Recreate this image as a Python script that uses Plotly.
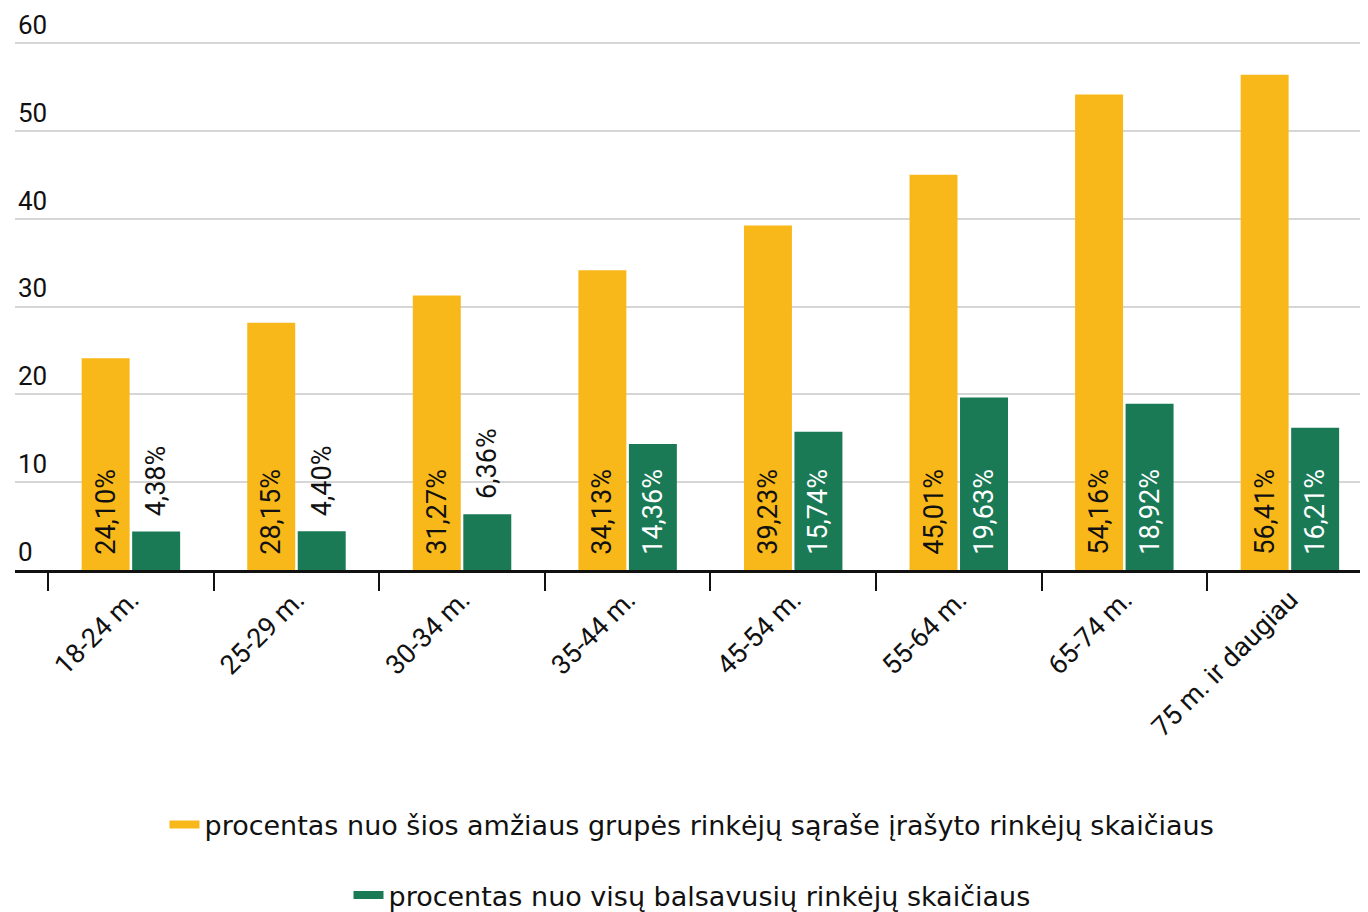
import plotly.graph_objects as go

categories = ["18-24 m.", "25-29 m.", "30-34 m.", "35-44 m.", "45-54 m.", "55-64 m.", "65-74 m.", "75 m. ir daugiau"]
share_of_group = [24.10, 28.15, 31.27, 34.13, 39.23, 45.01, 54.16, 56.41]
share_of_voters = [4.38, 4.40, 6.36, 14.36, 15.74, 19.63, 18.92, 16.21]
y_ticks = [0, 10, 20, 30, 40, 50, 60]
legend_names = [
    "procentas nuo šios amžiaus grupės rinkėjų sąraše įrašyto rinkėjų skaičiaus",
    "procentas nuo visų balsavusių rinkėjų skaičiaus",
]

YELLOW = "#F9B81A"
GREEN = "#1A7A56"
TXT_FONT = "Roboto"
LEG_FONT = "DejaVu Sans"
LABEL_TPL = "\u00a0\u2009%{y:.2f}%"

green_pos = ["outside" if v < 10 else "inside" for v in share_of_voters]

fig = go.Figure()
fig.add_trace(go.Bar(
    x=categories, y=share_of_group, marker=dict(color=YELLOW, line=dict(width=0)),
    texttemplate=LABEL_TPL, textposition="inside", insidetextanchor="start",
    textangle=-90, constraintext="none",
    insidetextfont=dict(color="#111111", size=27, family=TXT_FONT),
    showlegend=False, cliponaxis=False, hoverinfo="skip",
))
fig.add_trace(go.Bar(
    x=categories, y=share_of_voters, marker=dict(color=GREEN, line=dict(width=0)),
    texttemplate=LABEL_TPL, textposition=green_pos, insidetextanchor="start",
    textangle=-90, constraintext="none",
    insidetextfont=dict(color="white", size=27, family=TXT_FONT),
    outsidetextfont=dict(color="#111111", size=27, family=TXT_FONT),
    showlegend=False, cliponaxis=False, hoverinfo="skip",
))
fig.add_trace(go.Scatter(x=[None], y=[None], mode="lines", line=dict(color=YELLOW, width=8),
                         name=legend_names[0], legend="legend"))
fig.add_trace(go.Scatter(x=[None], y=[None], mode="lines", line=dict(color=GREEN, width=8),
                         name=legend_names[1], legend="legend2"))

fig.update_layout(
    width=1368, height=912,
    margin=dict(l=7, r=0, t=0, b=350),
    plot_bgcolor="white", paper_bgcolor="white",
    separators=",.",
    barmode="group", bargap=0.39, bargroupgap=0.05,
    font=dict(family=TXT_FONT, color="#111111"),
    legend=dict(x=0.5, xanchor="center", xref="container", y=1 - 817 / 912, yref="container",
                yanchor="middle", orientation="h",
                font=dict(family=LEG_FONT, size=27, color="#111111"), bgcolor="rgba(0,0,0,0)"),
    legend2=dict(x=0.5, xanchor="center", xref="container", y=0, yref="container",
                 yanchor="bottom", orientation="h",
                 font=dict(family=LEG_FONT, size=27, color="#111111"), bgcolor="rgba(0,0,0,0)"),
)
fig.update_xaxes(
    type="category", range=[-0.7, 7.52], tickson="boundaries", automargin=False,
    showline=True, linecolor="#111111", linewidth=3,
    ticks="outside", ticklen=18, tickwidth=2, tickcolor="#111111",
    tickangle=-45, tickfont=dict(size=27, family=TXT_FONT, color="#111111"),
    showgrid=False,
)
fig.update_yaxes(
    range=[0, 64], tickvals=y_ticks, ticklabelposition="inside top", automargin=False,
    tickfont=dict(size=26, family=TXT_FONT, color="#111111"),
    showgrid=True, gridcolor="#d6d6d6", gridwidth=1.5, zeroline=False, showline=False,
)

fig.write_html("out.html")
